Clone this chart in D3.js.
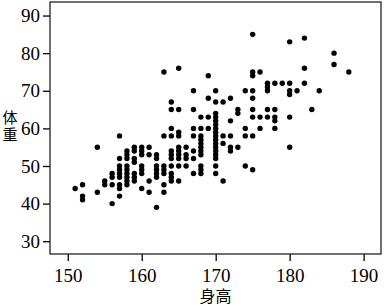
<!DOCTYPE html>
<meta charset="utf-8">
<head>
    <script type="text/javascript" src="https://cdn.jsdelivr.net/npm/d3@7"></script>
    <style>
        body { margin: 0; background: #fff; }
        .tick text { font-family: "Liberation Serif", "DejaVu Serif", serif; font-size: 19px; fill: #000; }
        .tick line { stroke: #000; }
        .cjk { font-family: "Noto Sans CJK SC", sans-serif; fill: #000; }
    </style>
    <title></title>
</head>
<body>
<div id="chart"></div>
<script>
    // heights (cm), one column of weights (kg) per height
    var heights = [151, 152, 154, 155, 156, 157, 158, 159, 160, 161, 162, 163, 164, 165, 166, 167, 168, 169,
                   170, 171, 172, 173, 174, 175, 176, 177, 178, 179, 180, 181, 182, 183, 184, 186, 188];
    var weights = [
        [44],
        [45, 42, 41],
        [55, 43],
        [46, 45],
        [48, 47, 45, 40],
        [58, 52, 50, 49, 48, 47, 45, 44, 42],
        [54, 53, 52, 50, 49, 48, 47, 46, 45],
        [55, 54, 52, 51, 48, 47, 46],
        [55, 54, 53, 50, 49, 48, 44],
        [55, 53, 46, 43],
        [53, 52, 50, 49, 48, 47, 39],
        [75, 58, 50, 49, 48, 45, 43],
        [67, 65, 60, 58, 54, 53, 52, 50, 48, 47, 46],
        [76, 65, 59, 58, 55, 54, 53, 52, 50, 46],
        [55, 53, 52, 50],
        [70, 65, 60, 58, 54, 52, 48],
        [63, 60, 58, 57, 56, 55, 54, 53, 50, 49, 48],
        [74, 68, 63, 60],
        [70, 67, 64, 63, 62, 61, 60, 59, 58, 57, 56, 55, 54, 53, 52, 50, 48],
        [67, 58, 56, 46],
        [68, 62, 58, 55, 54],
        [65, 64, 55],
        [70, 60, 58, 50],
        [85, 75, 74, 70, 68, 65, 63, 58, 49],
        [75, 63, 60],
        [72, 71, 70, 65, 63],
        [72, 65, 63, 62, 60],
        [72],
        [83, 72, 70, 69, 63, 55],
        [70],
        [84, 76, 72],
        [65],
        [70],
        [80, 77],
        [75]
    ];
    var xTicks = [150, 160, 170, 180, 190];
    var yTicks = [30, 40, 50, 60, 70, 80, 90];
    var xLabel = "身高";
    var yLabel = ["体", "重"];

    var width = 384, height = 306;
    var plot = {left: 50, right: 381, top: 2, bottom: 254};

    var points = [];
    heights.forEach(function (h, i) {
        weights[i].forEach(function (w) { points.push({h: h, w: w}); });
    });

    var svg = d3.select("#chart").append("svg")
        .attr("width", width)
        .attr("height", height);

    var x = d3.scaleLinear().domain([147.6, 192.35]).range([plot.left, plot.right]);
    var y = d3.scaleLinear().domain([26.6, 93.6]).range([plot.bottom, plot.top]);

    var xAxis = svg.append("g")
        .attr("transform", "translate(0," + plot.bottom + ")")
        .call(d3.axisBottom(x).tickValues(xTicks).tickSize(7).tickSizeOuter(0).tickPadding(8));
    xAxis.select(".domain").remove();

    var yAxis = svg.append("g")
        .attr("transform", "translate(" + plot.left + ",0)")
        .call(d3.axisLeft(y).tickValues(yTicks).tickSize(7).tickSizeOuter(0).tickPadding(3));
    yAxis.select(".domain").remove();

    svg.selectAll(".tick line").attr("stroke-width", 1.3);

    svg.append("rect")
        .attr("x", plot.left)
        .attr("y", plot.top)
        .attr("width", plot.right - plot.left)
        .attr("height", plot.bottom - plot.top)
        .attr("fill", "none")
        .attr("stroke", "#222")
        .attr("stroke-width", 1.3);

    svg.append("g").selectAll("circle")
        .data(points)
        .enter().append("circle")
        .attr("cx", function (d) { return x(d.h); })
        .attr("cy", function (d) { return y(d.w); })
        .attr("r", 2.7)
        .attr("fill", "#000");

    svg.append("text")
        .attr("class", "cjk")
        .attr("x", (plot.left + plot.right) / 2)
        .attr("y", 302)
        .attr("text-anchor", "middle")
        .style("font-size", "16px")
        .text(xLabel);

    // vertical label, one character per line
    svg.append("text")
        .attr("class", "cjk")
        .attr("text-anchor", "middle")
        .style("font-size", "15px")
        .selectAll("tspan")
        .data(yLabel)
        .enter().append("tspan")
        .attr("x", 10)
        .attr("y", function (d, i) { return 123 + i * 17; })
        .text(function (d) { return d; });
</script>
</body>
